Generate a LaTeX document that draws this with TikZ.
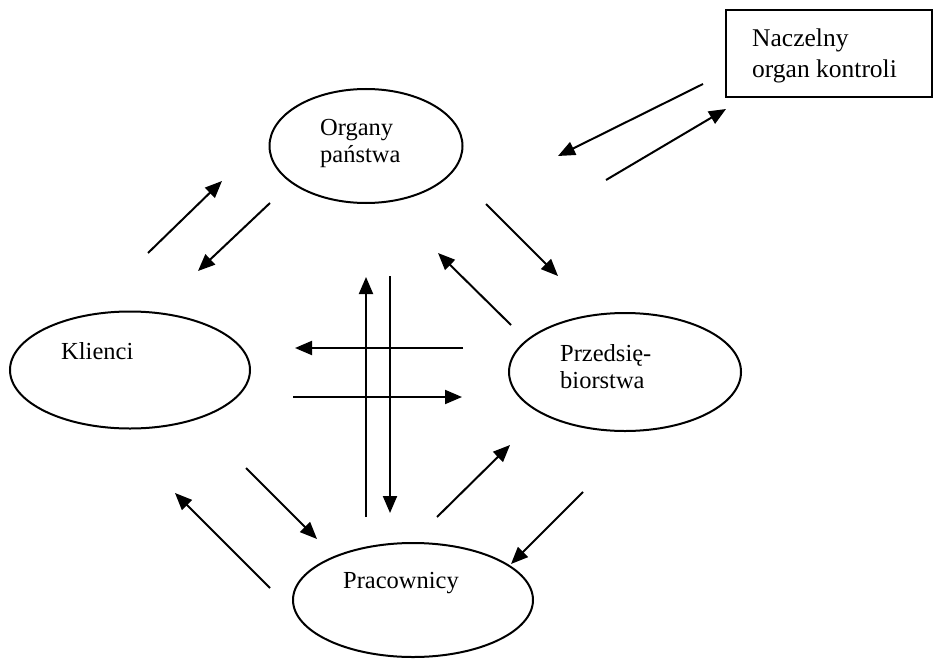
\documentclass[tikz,border=0pt]{standalone}
\usepackage{fontspec}
\setmainfont{Liberation Serif}
\usetikzlibrary{shapes.geometric,arrows.meta}

\tikzset{
  owal/.style={draw,ellipse,inner sep=0pt,line width=2pt},
  napis/.style={anchor=base west,inner sep=0pt,align=left,
    font=\fontsize{24.5}{27}\selectfont},
  strz/.style={-{Triangle[length=17pt,width=14pt]},line width=2pt}
}

\begin{document}
\begin{tikzpicture}[x=1pt,y=-1pt]
  \useasboundingbox (0,0) rectangle (933,658);

  % owale
  \node[owal,minimum width=193,minimum height=114] (organy) at (366,146) {};
  \node[owal,minimum width=240,minimum height=117] (klienci) at (130,370) {};
  \node[owal,minimum width=232,minimum height=118] (firmy) at (625,372) {};
  \node[owal,minimum width=240,minimum height=114] (pracownicy) at (413,600) {};
  \node[draw,line width=2pt,minimum width=206,minimum height=87,inner sep=0pt]
    (nok) at (829,53.5) {};

  % napisy (punkt = linia bazowa ostatniego wiersza)
  \node[napis] (tOrgany) at (320,162) {Organy\\państwa};
  \node[napis] (tKlienci) at (61,359) {Klienci};
  \node[napis] (tFirmy) at (560,388) {Przedsię-\\biorstwa};
  \node[napis] (tPrac) at (343,588) {Pracownicy};
  \node[napis,font=\fontsize{25.5}{32}\selectfont] (tNok) at (752,78)
    {Naczelny\\organ kontroli};

  % punkty koncowe strzalek
  \coordinate (a1) at (148,253); \coordinate (a2) at (222,181);
  \coordinate (b1) at (270,203); \coordinate (b2) at (198,271);
  \coordinate (c1) at (486,204); \coordinate (c2) at (558,276);
  \coordinate (d1) at (511,325); \coordinate (d2) at (438,253);
  \coordinate (e1) at (703,84);  \coordinate (e2) at (558,156);
  \coordinate (f1) at (606,180); \coordinate (f2) at (726,109);
  \coordinate (g1) at (366,517); \coordinate (g2) at (366,277);
  \coordinate (h1) at (390,276); \coordinate (h2) at (390,513);
  \coordinate (i1) at (463,348); \coordinate (i2) at (295,348);
  \coordinate (j1) at (293,397); \coordinate (j2) at (462,397);
  \coordinate (k1) at (270,588); \coordinate (k2) at (175,493);
  \coordinate (l1) at (246,468); \coordinate (l2) at (317,539);
  \coordinate (m1) at (437,517); \coordinate (m2) at (510,445);
  \coordinate (n1) at (583,492); \coordinate (n2) at (511,564);

  % strzalki
  \foreach \s in {a,b,c,d,e,f,g,h,i,j,k,l,m,n}
    \draw[strz] (\s1) -- (\s2);
\end{tikzpicture}
\end{document}
